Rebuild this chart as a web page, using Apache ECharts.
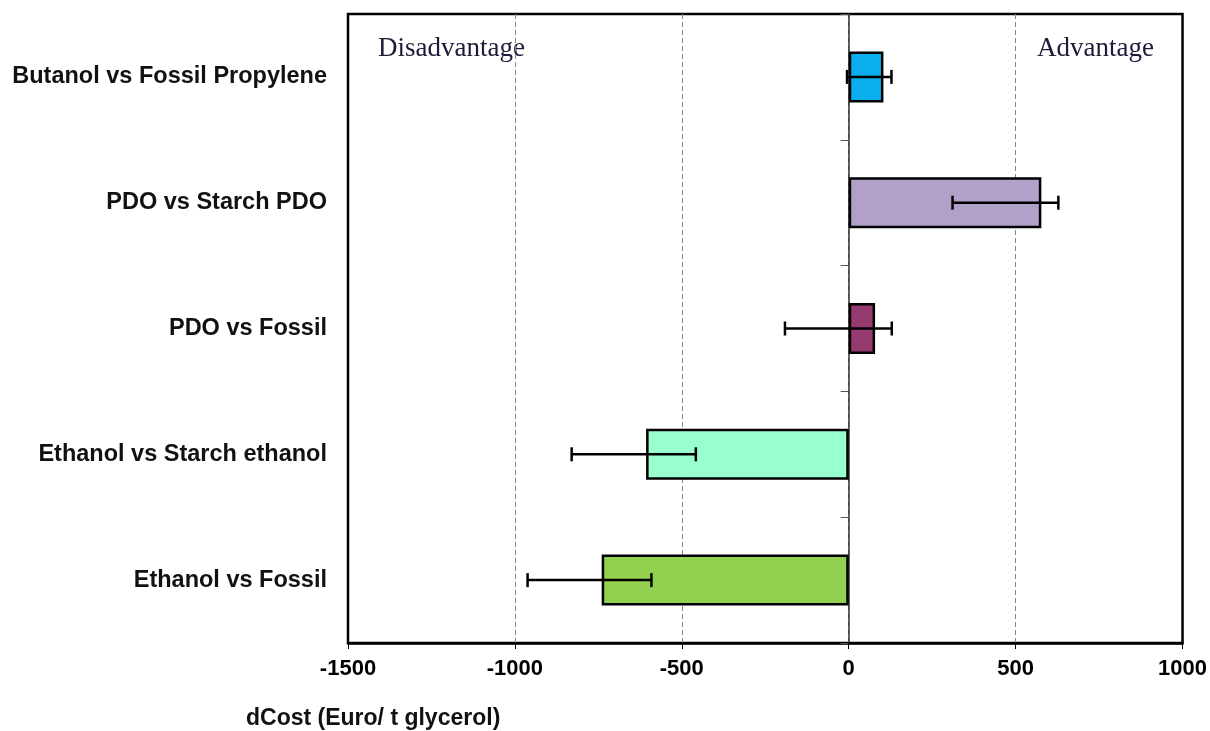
<!DOCTYPE html>
<html>
<head>
<meta charset="utf-8">
<script src="https://cdn.jsdelivr.net/npm/echarts@6/dist/echarts.min.js"></script>
<style>html,body{margin:0;padding:0;background:#fff}#c{width:1210px;height:731px}</style>
</head>
<body>
<div id="c"></div>
<script>
const categories = ['Butanol vs Fossil Propylene', 'PDO vs Starch PDO', 'PDO vs Fossil', 'Ethanol vs Starch ethanol', 'Ethanol vs Fossil'];
const values = [104, 577, 79, -607, -740];
const errLow = [-5, 311, -191, -830, -962];
const errHigh = [128, 628, 129, -458, -591];
const barColors = ['#0AAEEF', '#B1A0C7', '#953A6E', '#99FFCC', '#92D050'];
const xTicks = { min: -1500, max: 1000, interval: 500 };

const chart = echarts.init(document.getElementById('c'));
const fontFam = '"Liberation Sans", Arial, sans-serif';

chart.setOption({
  animation: false,
  grid: { left: 348, top: 14, right: 27, bottom: 88, show: true, borderColor: '#000', borderWidth: 2.5, backgroundColor: 'transparent' },
  xAxis: {
    type: 'value', min: xTicks.min, max: xTicks.max, interval: xTicks.interval,
    axisLine: { show: true, onZero: false, lineStyle: { color: '#000', width: 2.5 } },
    axisTick: { show: true, length: 6, lineStyle: { color: '#000', width: 1 } },
    axisLabel: { margin: 15, fontFamily: fontFam, fontWeight: 'bold', fontSize: 22, color: '#000', formatter: v => String(v) },
    splitLine: { show: true, showMinLine: false, showMaxLine: false, lineStyle: { color: '#888', type: [5, 3], width: 1 } }
  },
  yAxis: [
    {
      type: 'category', data: categories, inverse: true,
      axisLine: { show: true, onZero: true, lineStyle: { color: '#333', width: 1.5 } },
      axisTick: { show: true, length: 8, lineStyle: { color: '#555', width: 1 } },
      axisLabel: { show: false },
      splitLine: { show: false }
    },
    {
      type: 'category', data: categories, inverse: true, position: 'left',
      axisLine: { show: false, onZero: false },
      axisTick: { show: false },
      axisLabel: { margin: 21, fontFamily: fontFam, fontWeight: 'bold', fontSize: 23.5, color: '#111' },
      splitLine: { show: false }
    }
  ],
  series: [
    {
      type: 'bar', yAxisIndex: 0, barWidth: 51,
      data: values.map((v, i) => ({ value: v, itemStyle: { color: barColors[i] } })),
      itemStyle: { borderColor: '#000', borderWidth: 2.5 },
      z: 2
    },
    {
      type: 'custom', yAxisIndex: 0, z: 3,
      data: categories.map((c, i) => [i, errLow[i], errHigh[i]]),
      renderItem: function (params, api) {
        const idx = api.value(0);
        const lo = api.coord([api.value(1), idx]);
        const hi = api.coord([api.value(2), idx]);
        const h = 7;
        const st = { stroke: '#000', lineWidth: 2.5 };
        return {
          type: 'group',
          children: [
            { type: 'line', shape: { x1: lo[0], y1: lo[1], x2: hi[0], y2: hi[1] }, style: st },
            { type: 'line', shape: { x1: lo[0], y1: lo[1] - h, x2: lo[0], y2: lo[1] + h }, style: st },
            { type: 'line', shape: { x1: hi[0], y1: hi[1] - h, x2: hi[0], y2: hi[1] + h }, style: st }
          ]
        };
      }
    }
  ],
  graphic: [
    { type: 'text', left: 378, top: 35, style: { text: 'Disadvantage', font: '27px "Liberation Serif", "Times New Roman", serif', fill: '#1c1c3a' } },
    { type: 'text', left: 1037, top: 35, style: { text: 'Advantage', font: '27px "Liberation Serif", "Times New Roman", serif', fill: '#1c1c3a' } },
    { type: 'text', left: 246, top: 707, style: { text: 'dCost (Euro/ t glycerol)', font: 'bold 23px "Liberation Sans", Arial, sans-serif', fill: '#111' } }
  ]
});
</script>
</body>
</html>
